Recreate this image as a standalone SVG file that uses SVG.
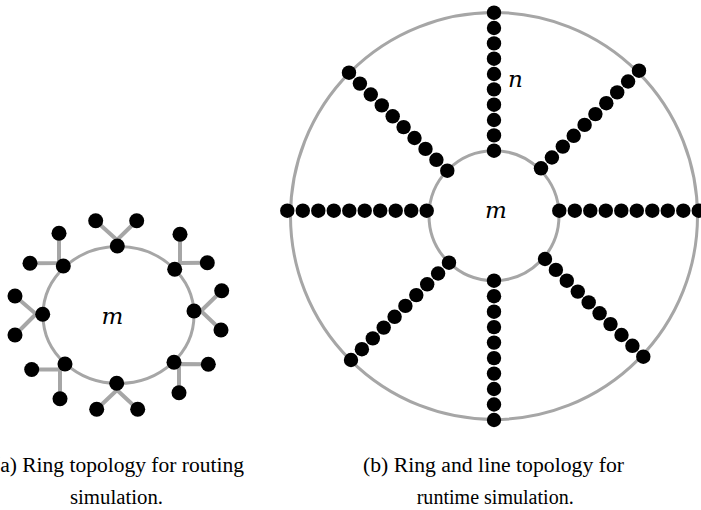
<svg xmlns="http://www.w3.org/2000/svg" width="701" height="510" viewBox="0 0 701 510">
<style>
.ring{fill:none;stroke:#a6a6a6;stroke-width:3}
.link{stroke:#a6a6a6;stroke-width:4;fill:none}
.n circle{fill:#000}
.s circle{fill:#000}
.lbl{font-family:"DejaVu Serif",serif;font-style:italic;font-size:23px;fill:#000}
.cap{font-family:"Liberation Serif","Times New Roman",serif;font-size:20px;fill:#000}
</style>
<rect width="701" height="510" fill="#fff"/>
<g id="connectors">
<ellipse class="ring" cx="118.5" cy="315" rx="75.5" ry="68.5"/>
<polyline class="link" points="95.7,220.7 117,240 136.7,220.7"/>
<polyline class="link" points="180,234.3 180,263 207.3,262.7"/>
<polyline class="link" points="221.7,290.7 201,311 221,330"/>
<polyline class="link" points="208.3,364.3 179,364 179,392.7"/>
<polyline class="link" points="96.7,409.3 117,390 137.7,409.3"/>
<polyline class="link" points="31.7,369.5 60,369.5 60,398.7"/>
<polyline class="link" points="15,296 36,314 15,335"/>
<polyline class="link" points="59,233.3 59,263 30,263.3"/>
<circle class="ring" cx="494" cy="216" r="203.5"/>
<circle class="ring" cx="494" cy="215.7" r="65"/>
</g>
<g id="ringA">
<g id="a-n" class="n"><circle cx="117.3" cy="246" r="7.5"/></g>
<g id="a-ne" class="n"><circle cx="174.7" cy="269.3" r="7.5"/></g>
<g id="a-e" class="n"><circle cx="194" cy="311" r="7.5"/></g>
<g id="a-se" class="n"><circle cx="174" cy="362.3" r="7.5"/></g>
<g id="a-s" class="n"><circle cx="116.7" cy="383.3" r="7.5"/></g>
<g id="a-sw" class="n"><circle cx="65" cy="364" r="7.5"/></g>
<g id="a-w" class="n"><circle cx="42.7" cy="314.3" r="7.5"/></g>
<g id="a-nw" class="n"><circle cx="63.3" cy="266" r="7.5"/></g>
<g id="a-n-1" class="n"><circle cx="95.7" cy="220.7" r="7.5"/></g>
<g id="a-n-2" class="n"><circle cx="136.7" cy="220.7" r="7.5"/></g>
<g id="a-ne-1" class="n"><circle cx="180" cy="234.3" r="7.5"/></g>
<g id="a-ne-2" class="n"><circle cx="207.3" cy="262.7" r="7.5"/></g>
<g id="a-e-1" class="n"><circle cx="221.7" cy="290.7" r="7.5"/></g>
<g id="a-e-2" class="n"><circle cx="221" cy="330" r="7.5"/></g>
<g id="a-se-1" class="n"><circle cx="208.3" cy="364.3" r="7.5"/></g>
<g id="a-se-2" class="n"><circle cx="179" cy="392.7" r="7.5"/></g>
<g id="a-s-1" class="n"><circle cx="96.7" cy="409.3" r="7.5"/></g>
<g id="a-s-2" class="n"><circle cx="137.7" cy="409.3" r="7.5"/></g>
<g id="a-sw-1" class="n"><circle cx="31.7" cy="369.5" r="7.5"/></g>
<g id="a-sw-2" class="n"><circle cx="60" cy="398.7" r="7.5"/></g>
<g id="a-w-1" class="n"><circle cx="15" cy="296" r="7.5"/></g>
<g id="a-w-2" class="n"><circle cx="15" cy="335" r="7.5"/></g>
<g id="a-nw-1" class="n"><circle cx="59" cy="233.3" r="7.5"/></g>
<g id="a-nw-2" class="n"><circle cx="30" cy="263.3" r="7.5"/></g>
<text class="lbl" x="112.5" y="324" text-anchor="middle">m</text>
</g>
<g id="ringB">
<g id="b-t0" class="s"><circle cx="494" cy="150.7" r="7.2"/></g>
<g id="b-t1" class="s"><circle cx="494" cy="135.4" r="7.2"/></g>
<g id="b-t2" class="s"><circle cx="494" cy="120.0" r="7.2"/></g>
<g id="b-t3" class="s"><circle cx="494" cy="104.7" r="7.2"/></g>
<g id="b-t4" class="s"><circle cx="494" cy="89.4" r="7.2"/></g>
<g id="b-t5" class="s"><circle cx="494" cy="74.0" r="7.2"/></g>
<g id="b-t6" class="s"><circle cx="494" cy="58.7" r="7.2"/></g>
<g id="b-t7" class="s"><circle cx="494" cy="43.4" r="7.2"/></g>
<g id="b-t8" class="s"><circle cx="494" cy="28.0" r="7.2"/></g>
<g id="b-t9" class="s"><circle cx="494" cy="12.7" r="7.2"/></g>
<g id="b-b0" class="s"><circle cx="494" cy="280.7" r="7.2"/></g>
<g id="b-b1" class="s"><circle cx="494" cy="296.2" r="7.2"/></g>
<g id="b-b2" class="s"><circle cx="494" cy="311.7" r="7.2"/></g>
<g id="b-b3" class="s"><circle cx="494" cy="327.1" r="7.2"/></g>
<g id="b-b4" class="s"><circle cx="494" cy="342.6" r="7.2"/></g>
<g id="b-b5" class="s"><circle cx="494" cy="358.1" r="7.2"/></g>
<g id="b-b6" class="s"><circle cx="494" cy="373.6" r="7.2"/></g>
<g id="b-b7" class="s"><circle cx="494" cy="389.0" r="7.2"/></g>
<g id="b-b8" class="s"><circle cx="494" cy="404.5" r="7.2"/></g>
<g id="b-b9" class="s"><circle cx="494" cy="420.0" r="7.2"/></g>
<g id="b-l0" class="s"><circle cx="426.7" cy="210.7" r="7.2"/></g>
<g id="b-l1" class="s"><circle cx="411.2" cy="210.7" r="7.2"/></g>
<g id="b-l2" class="s"><circle cx="395.7" cy="210.7" r="7.2"/></g>
<g id="b-l3" class="s"><circle cx="380.2" cy="210.7" r="7.2"/></g>
<g id="b-l4" class="s"><circle cx="364.7" cy="210.7" r="7.2"/></g>
<g id="b-l5" class="s"><circle cx="349.3" cy="210.7" r="7.2"/></g>
<g id="b-l6" class="s"><circle cx="333.8" cy="210.7" r="7.2"/></g>
<g id="b-l7" class="s"><circle cx="318.3" cy="210.7" r="7.2"/></g>
<g id="b-l8" class="s"><circle cx="302.8" cy="210.7" r="7.2"/></g>
<g id="b-l9" class="s"><circle cx="287.3" cy="210.7" r="7.2"/></g>
<g id="b-r0" class="s"><circle cx="559.3" cy="210.7" r="7.2"/></g>
<g id="b-r1" class="s"><circle cx="574.8" cy="210.7" r="7.2"/></g>
<g id="b-r2" class="s"><circle cx="590.3" cy="210.7" r="7.2"/></g>
<g id="b-r3" class="s"><circle cx="605.8" cy="210.7" r="7.2"/></g>
<g id="b-r4" class="s"><circle cx="621.3" cy="210.7" r="7.2"/></g>
<g id="b-r5" class="s"><circle cx="636.8" cy="210.7" r="7.2"/></g>
<g id="b-r6" class="s"><circle cx="652.3" cy="210.7" r="7.2"/></g>
<g id="b-r7" class="s"><circle cx="667.8" cy="210.7" r="7.2"/></g>
<g id="b-r8" class="s"><circle cx="683.3" cy="210.7" r="7.2"/></g>
<g id="b-r9" class="s"><circle cx="698.8" cy="210.7" r="7.2"/></g>
<g id="b-ul0" class="s"><circle cx="447.3" cy="170.7" r="7.2"/></g>
<g id="b-ul1" class="s"><circle cx="436.4" cy="159.8" r="7.2"/></g>
<g id="b-ul2" class="s"><circle cx="425.5" cy="148.9" r="7.2"/></g>
<g id="b-ul3" class="s"><circle cx="414.5" cy="138.0" r="7.2"/></g>
<g id="b-ul4" class="s"><circle cx="403.6" cy="127.1" r="7.2"/></g>
<g id="b-ul5" class="s"><circle cx="392.7" cy="116.3" r="7.2"/></g>
<g id="b-ul6" class="s"><circle cx="381.8" cy="105.4" r="7.2"/></g>
<g id="b-ul7" class="s"><circle cx="370.8" cy="94.5" r="7.2"/></g>
<g id="b-ul8" class="s"><circle cx="359.9" cy="83.6" r="7.2"/></g>
<g id="b-ul9" class="s"><circle cx="349.0" cy="72.7" r="7.2"/></g>
<g id="b-ur0" class="s"><circle cx="541.0" cy="168.3" r="7.2"/></g>
<g id="b-ur1" class="s"><circle cx="551.9" cy="157.5" r="7.2"/></g>
<g id="b-ur2" class="s"><circle cx="562.8" cy="146.6" r="7.2"/></g>
<g id="b-ur3" class="s"><circle cx="573.7" cy="135.8" r="7.2"/></g>
<g id="b-ur4" class="s"><circle cx="584.6" cy="124.9" r="7.2"/></g>
<g id="b-ur5" class="s"><circle cx="595.4" cy="114.1" r="7.2"/></g>
<g id="b-ur6" class="s"><circle cx="606.3" cy="103.2" r="7.2"/></g>
<g id="b-ur7" class="s"><circle cx="617.2" cy="92.4" r="7.2"/></g>
<g id="b-ur8" class="s"><circle cx="628.1" cy="81.5" r="7.2"/></g>
<g id="b-ur9" class="s"><circle cx="639.0" cy="70.7" r="7.2"/></g>
<g id="b-ll0" class="s"><circle cx="449.0" cy="262.7" r="7.2"/></g>
<g id="b-ll1" class="s"><circle cx="438.1" cy="273.5" r="7.2"/></g>
<g id="b-ll2" class="s"><circle cx="427.2" cy="284.3" r="7.2"/></g>
<g id="b-ll3" class="s"><circle cx="416.3" cy="295.1" r="7.2"/></g>
<g id="b-ll4" class="s"><circle cx="405.4" cy="305.9" r="7.2"/></g>
<g id="b-ll5" class="s"><circle cx="394.6" cy="316.8" r="7.2"/></g>
<g id="b-ll6" class="s"><circle cx="383.7" cy="327.6" r="7.2"/></g>
<g id="b-ll7" class="s"><circle cx="372.8" cy="338.4" r="7.2"/></g>
<g id="b-ll8" class="s"><circle cx="361.9" cy="349.2" r="7.2"/></g>
<g id="b-ll9" class="s"><circle cx="351.0" cy="360.0" r="7.2"/></g>
<g id="b-lr0" class="s"><circle cx="545.0" cy="259.0" r="7.2"/></g>
<g id="b-lr1" class="s"><circle cx="555.9" cy="269.9" r="7.2"/></g>
<g id="b-lr2" class="s"><circle cx="566.8" cy="280.7" r="7.2"/></g>
<g id="b-lr3" class="s"><circle cx="577.8" cy="291.6" r="7.2"/></g>
<g id="b-lr4" class="s"><circle cx="588.7" cy="302.4" r="7.2"/></g>
<g id="b-lr5" class="s"><circle cx="599.6" cy="313.3" r="7.2"/></g>
<g id="b-lr6" class="s"><circle cx="610.5" cy="324.1" r="7.2"/></g>
<g id="b-lr7" class="s"><circle cx="621.5" cy="335.0" r="7.2"/></g>
<g id="b-lr8" class="s"><circle cx="632.4" cy="345.8" r="7.2"/></g>
<g id="b-lr9" class="s"><circle cx="643.3" cy="356.7" r="7.2"/></g>
<text class="lbl" x="496" y="218" text-anchor="middle">m</text>
<text class="lbl" x="508" y="87">n</text>
</g>
<g id="captions">
<text class="cap" x="-7" y="472" textLength="251" lengthAdjust="spacingAndGlyphs">(a) Ring topology for routing</text>
<text class="cap" x="70" y="504" textLength="93" lengthAdjust="spacingAndGlyphs">simulation.</text>
<text class="cap" x="363" y="472" textLength="261" lengthAdjust="spacingAndGlyphs">(b) Ring and line topology for</text>
<text class="cap" x="416.7" y="504" textLength="157" lengthAdjust="spacingAndGlyphs">runtime simulation.</text>
</g>
</svg>
